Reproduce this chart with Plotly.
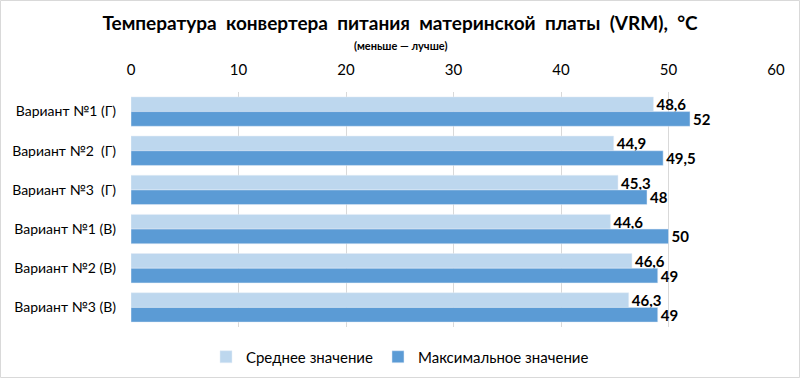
import plotly.graph_objects as go

categories = ["Вариант №1 (Г)", "Вариант №2\u00a0 (Г)", "Вариант №3\u00a0 (Г)",
              "Вариант №1 (В)", "Вариант №2 (В)", "Вариант №3 (В)"]
avg_values = [48.6, 44.9, 45.3, 44.6, 46.6, 46.3]
max_values = [52, 49.5, 48, 50, 49, 49]
series_names = ["Среднее значение", "Максимальное значение"]
tick_vals = [0, 10, 20, 30, 40, 50, 60]

FONT = "Lato"
W, H = 800, 378
ML, MR, MT, MB = 131, 24, 92, 51
pw, ph = W - ML - MR, H - MT - MB


def fmt(v):
    return (f"{v:g}").replace(".", ",")


fig = go.Figure()
for vals, name, color in [(avg_values, series_names[0], "#BDD7EE"),
                          (max_values, series_names[1], "#5B9BD5")]:
    fig.add_trace(go.Bar(
        y=categories, x=vals, orientation="h", name=name,
        marker=dict(color=color),
        text=[fmt(v) for v in vals], textposition="outside",
        constraintext="none",
        textfont=dict(family=FONT, size=15, color="#000000", weight="bold"),
        cliponaxis=False,
    ))

title_text = "Температура  конвертера  питания  материнской  платы  (VRM),  °C".replace("  ", "\u00a0 ")

fig.update_layout(
    width=W, height=H,
    margin=dict(l=ML, r=MR, t=MT, b=MB),
    paper_bgcolor="white", plot_bgcolor="white",
    barmode="group", bargap=0.25, bargroupgap=0,
    font=dict(family=FONT, color="#000000"),
    title=dict(
        text=title_text,
        x=0.5, xref="container", xanchor="center",
        y=1 - 23.5 / H, yref="container", yanchor="middle",
        font=dict(family=FONT, size=19, color="#000000", weight="bold"),
    ),
    annotations=[dict(
        text="(меньше — лучше)", xref="paper", yref="paper",
        x=(400 - ML) / pw, y=(MT + ph - 46) / ph, xanchor="center", yanchor="middle",
        showarrow=False, font=dict(family=FONT, size=11, color="#000000", weight="bold"),
    )],
    xaxis=dict(
        side="top", range=[0, 60], tickvals=tick_vals,
        showgrid=True, gridcolor="#D9D9D9", gridwidth=1,
        zeroline=False, showline=False, ticks="", automargin=False,
        tickfont=dict(family=FONT, size=15, color="#000000"),
        ticklabelstandoff=13,
    ),
    yaxis=dict(
        autorange="reversed", showgrid=False, zeroline=False, automargin=False,
        showline=False, ticks="", ticklabelstandoff=14,
        tickfont=dict(family=FONT, size=14, color="#000000"),
    ),
    legend=dict(
        orientation="h", x=0.5, xref="container", xanchor="center",
        y=1 - 357 / H, yref="container", yanchor="middle",
        font=dict(family=FONT, size=15, color="#000000"),
        traceorder="normal",
    ),
    shapes=[dict(
        type="rect", xref="paper", yref="paper",
        x0=(0.5 - ML) / pw, x1=(W - 0.5 - ML) / pw,
        y0=(MT + ph - (H - 0.5)) / ph, y1=(MT + ph - 0.5) / ph,
        line=dict(color="#D9D9D9", width=1), layer="below",
    )],
)

fig.write_html(
    "out.html",
    config={"displayModeBar": False},
    post_script="document.body.style.margin='0';document.body.style.overflow='hidden';",
)
